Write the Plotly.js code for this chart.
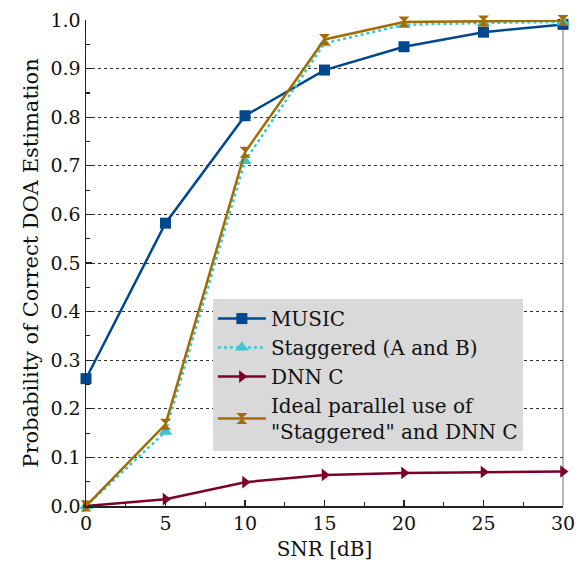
<!DOCTYPE html>
<html>
<head>
<meta charset="utf-8">
<script src="https://cdn.plot.ly/plotly-3.0.1.min.js"></script>
<style>html,body{margin:0;padding:0;background:#fff;}#chart{width:580px;height:565px;}</style>
</head>
<body>
<div id="chart"></div>
<script>
const snr = [0, 5, 10, 15, 20, 25, 30];
const music = [0.262, 0.582, 0.803, 0.897, 0.945, 0.975, 0.991];
const staggered = [0.0, 0.153, 0.710, 0.952, 0.990, 0.994, 0.996];
const dnnC = [0.0, 0.014, 0.049, 0.064, 0.068, 0.070, 0.071];
const ideal = [0.0, 0.168, 0.728, 0.960, 0.996, 0.998, 0.999];
const names = ['MUSIC', 'Staggered (A and B)', 'DNN C', 'Ideal parallel use of<br>"Staggered" and DNN C'];
const yTickVals = [0, 0.1, 0.2, 0.3, 0.4, 0.5, 0.6, 0.7, 0.8, 0.9, 1.0];
const yTickText = ['0.0', '0.1', '0.2', '0.3', '0.4', '0.5', '0.6', '0.7', '0.8', '0.9', '1.0'];
const xTickVals = [0, 5, 10, 15, 20, 25, 30];

const font = '"DejaVu Serif", serif';
const traces = [
  {x: snr, y: music, name: names[0], mode: 'lines+markers', cliponaxis: false,
   line: {color: '#00478d', width: 2.5}, marker: {symbol: 'square', size: 11, color: '#00478d'}},
  {x: snr, y: staggered, name: names[1], mode: 'lines+markers', cliponaxis: false,
   line: {color: '#38c9d0', width: 2.5, dash: 'dot'}, marker: {symbol: 'triangle-up', size: 12, color: '#38c9d0'}},
  {x: snr, y: dnnC, name: names[2], mode: 'lines+markers', cliponaxis: false,
   line: {color: '#7d0028', width: 2.5}, marker: {symbol: 'triangle-right', size: 11, color: '#7d0028'}},
  {x: snr, y: ideal, name: names[3], mode: 'lines+markers', cliponaxis: false,
   line: {color: '#a26c00', width: 2.5}, marker: {symbol: 'hourglass', size: 11, color: '#a26c00'}}
];

const layout = {
  width: 580, height: 565,
  margin: {l: 86, r: 17, t: 20, b: 59},
  paper_bgcolor: '#fff', plot_bgcolor: '#fff',
  font: {family: font, size: 19, color: '#111'},
  showlegend: true,
  legend: {x: 0.266, y: 0.113, xanchor: 'left', yanchor: 'bottom', bgcolor: '#d9d9d9',
           font: {family: font, size: 20, color: '#111'}, tracegroupgap: 0, itemwidth: 48,
           borderwidth: 0},
  xaxis: {range: [0, 30], tickvals: xTickVals, ticks: 'inside', ticklen: 6, tickwidth: 1.2,
          tickcolor: '#222', showline: true, linecolor: '#222', linewidth: 1.5, showgrid: false,
          zeroline: false, tickfont: {family: font, size: 19},
          minor: {dtick: 2.5, ticks: 'inside', ticklen: 4, tickcolor: '#222', showgrid: false},
          title: {text: 'SNR [dB]', font: {family: font, size: 20}, standoff: 8}},
  yaxis: {range: [0, 1], tickvals: yTickVals, ticktext: yTickText, ticks: 'inside', ticklen: 6,
          tickwidth: 1.2, tickcolor: '#222', showline: true, linecolor: '#222', linewidth: 1.5,
          showgrid: true, gridcolor: '#333', griddash: 'dot', gridwidth: 1, zeroline: false,
          tickfont: {family: font, size: 19},
          minor: {dtick: 0.05, ticks: 'inside', ticklen: 4, tickcolor: '#222', showgrid: false},
          title: {text: 'Probability of Correct DOA Estimation', font: {family: font, size: 21}, standoff: 6}},
  shapes: [{type: 'line', xref: 'paper', yref: 'paper', x0: 1, x1: 1, y0: 0, y1: 1,
            line: {color: '#888', width: 1.2}, layer: 'below'}]
};
Plotly.newPlot('chart', traces, layout, {displayModeBar: false, staticPlot: true});
</script>
</body>
</html>
